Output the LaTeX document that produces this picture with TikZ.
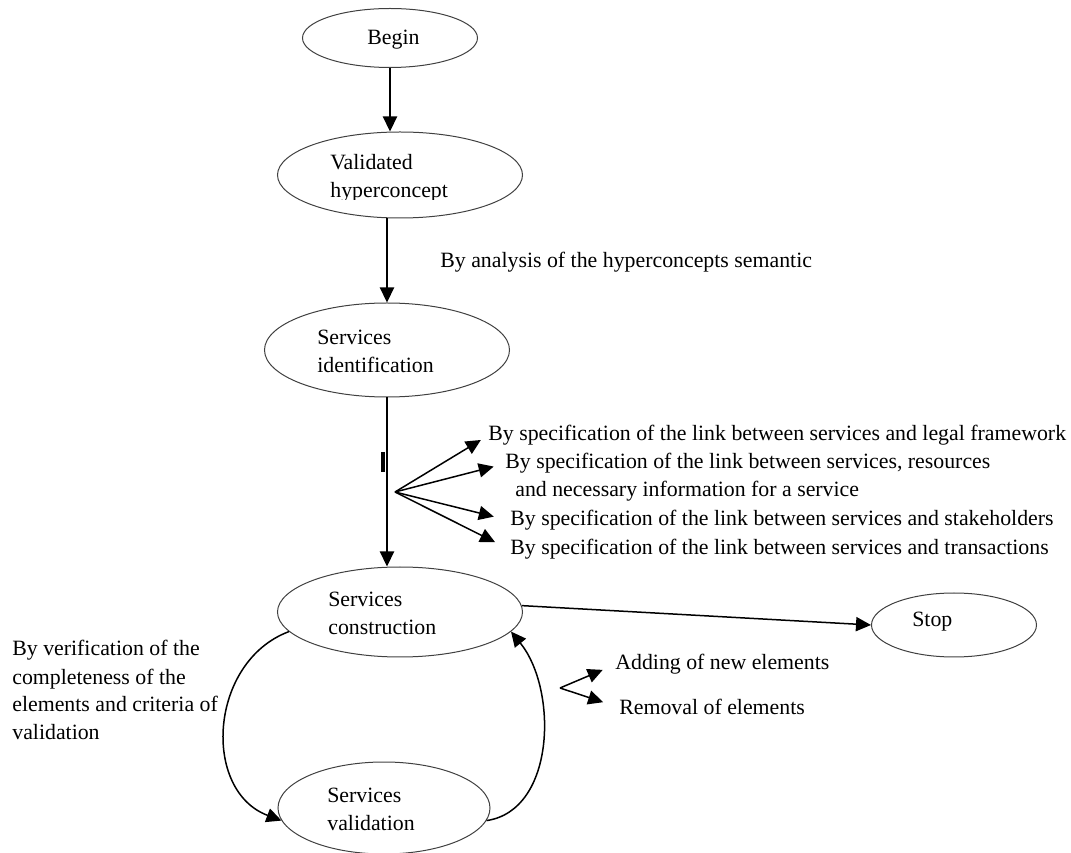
\documentclass[tikz,border=0pt]{standalone}
\usepackage{fontspec}
\setmainfont{Liberation Serif}
\usetikzlibrary{positioning, shapes.geometric, arrows.meta}

\begin{document}
\begin{tikzpicture}[x=0.6pt, y=-0.6pt, font=\fontsize{13.1}{16.8}\selectfont,
    state/.style={ellipse, draw=black!75, line width=0.6pt, inner sep=0pt},
    txt/.style={inner sep=0pt, anchor=base west, align=left},
    arr/.style={line width=0.9pt, -{Triangle[length=9pt, width=8.5pt]}}]
    \useasboundingbox (0,0) rectangle (1071,853);
    \node[state, minimum width=105pt, minimum height=35.4pt] (Begin) at (390,38) {};
    \node[state, minimum width=147pt, minimum height=51.6pt] (Hyper) at (400,175) {};
    \node[state, minimum width=147pt, minimum height=56.4pt] (Ident) at (387,350) {};
    \node[state, minimum width=147pt, minimum height=54pt] (Constr) at (400,612) {};
    \node[state, minimum width=127.2pt, minimum height=55.2pt] (Valid) at (384,808) {};
    \node[state, minimum width=99pt, minimum height=38.4pt] (Stop) at (954,625) {};
    \node[txt] (BeginTxt) at (367,45) {Begin};
    \begin{scope}
    \clip (300,140) rectangle (520,200);
    \node[txt] (HyperTxt) at (330,198) {Validated\\hyperconcept};
    \end{scope}
    \node[txt] (IdentTxt) at (317,373) {Services\\identification};
    \node[txt] (ConstrTxt) at (328,635) {Services\\construction};
    \node[txt] (ValidTxt) at (327,830) {Services\\validation};
    \node[txt] (StopTxt) at (912,627) {Stop};
    \node[txt] (Sem) at (440,268) {By analysis of the hyperconcepts semantic};
    \node[txt] (Legal) at (488,441) {By specification of the link between services and legal framework};
    \node[txt] (Res) at (505,469) {By specification of the link between services, resources};
    \node[txt] (ResB) at (515,497) {and necessary information for a service};
    \node[txt] (Stake) at (510,526) {By specification of the link between services and stakeholders};
    \node[txt] (Trans) at (510,555) {By specification of the link between services and transactions};
    \node[txt] (Add) at (615,670) {Adding of new elements};
    \node[txt] (Rem) at (619,715) {Removal of elements};
    \node[txt] (Verif) at (12,740) {By verification of the\\completeness of the\\elements and criteria of\\validation};
    \coordinate (Fan) at (395,492);
    \coordinate (Fan2) at (560,688);
    \draw[arr] (Begin.south) -- (Begin.south |- Hyper.north);
    \draw[arr] (Ident.north |- Hyper.south) -- (Ident.north);
    \draw[arr] (Ident.south) -- (Ident.south |- Constr.north);
    \draw[line width=2.4pt] (383,452) -- (383,472);
    \foreach \t/\s in {Legal/5pt, Res/7pt, Stake/10pt, Trans/10pt}
        \draw[arr, shorten >=\s] (Fan) -- (\t.west);
    \draw[arr] (Constr.3) -- (Stop.west);
    \draw[arr] (Constr.190) .. controls +(-80,30) and +(-80,-30) .. (Valid.187);
    \draw[arr] (Valid.-7) .. controls +(69,-10) and +(47,58) .. (Constr.-10);
    \foreach \t/\s in {Add/8pt, Rem/10pt}
        \draw[arr, shorten >=\s] (Fan2) -- (\t.west);
\end{tikzpicture}
\end{document}
